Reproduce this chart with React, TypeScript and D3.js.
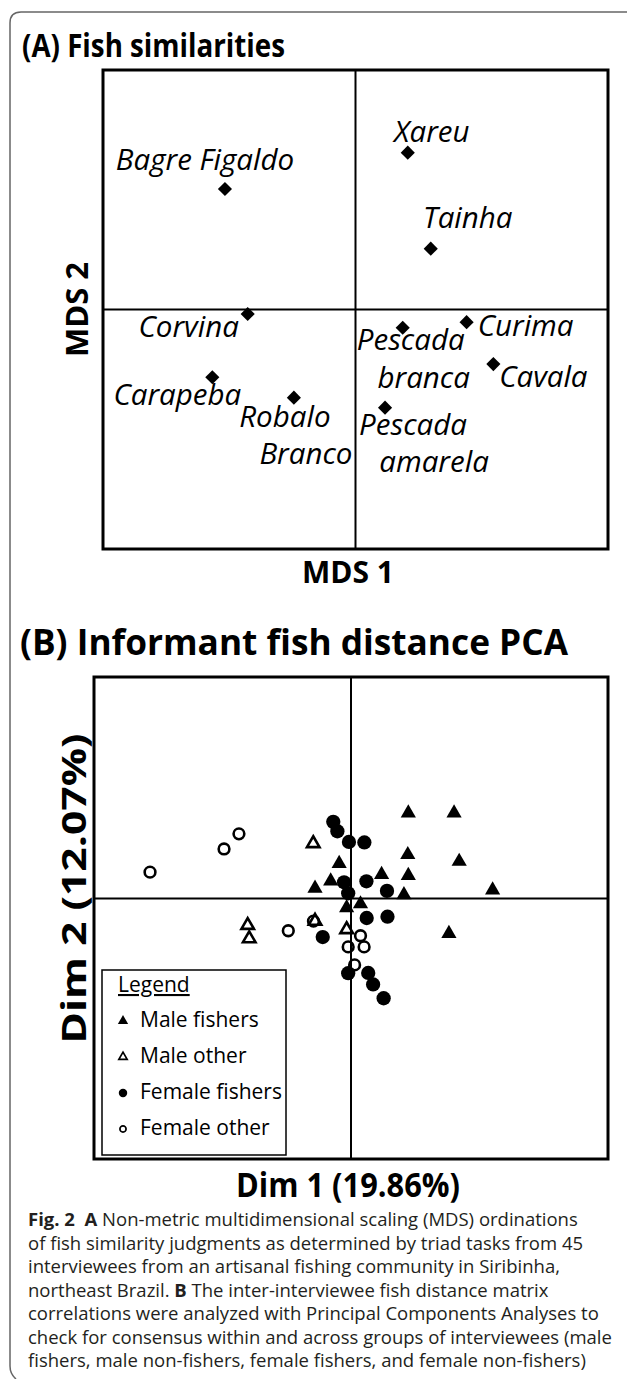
import React from 'react'
import * as d3 from 'd3'

// (A) MDS ordination of fish similarity
const fishNames = ['Bagre Figaldo', 'Xareu', 'Tainha', 'Corvina', 'Pescada branca', 'Curima', 'Carapeba', 'Robalo Branco', 'Cavala', 'Pescada amarela']
const mds1 = [-0.517, 0.207, 0.298, -0.427, 0.187, 0.44, -0.567, -0.244, 0.546, 0.117]
const mds2 = [0.503, 0.655, 0.254, -0.019, -0.076, -0.053, -0.283, -0.368, -0.228, -0.41]

// (B) PCA of informants, one pair of arrays per group
const maleFishersX = [0.223, 0.401, 0.221, 0.421, 0.223, 0.119, -0.046, -0.079, -0.14, 0.206, 0.551, 0.037, -0.017, 0.381]
const maleFishersY = [0.328, 0.328, 0.168, 0.142, 0.088, 0.092, 0.134, 0.067, 0.039, 0.014, 0.032, -0.021, -0.036, -0.135]
const maleOtherX = [-0.147, -0.402, -0.396, -0.14, -0.017]
const maleOtherY = [0.211, -0.103, -0.154, -0.087, -0.119]
const femaleFishersX = [-0.069, -0.053, -0.008, 0.052, -0.027, 0.06, 0.14, -0.011, 0.061, 0.142, -0.11, -0.011, 0.067, 0.086, 0.127]
const femaleFishersY = [0.294, 0.258, 0.217, 0.215, 0.062, 0.066, 0.029, 0.02, -0.075, -0.07, -0.148, -0.287, -0.286, -0.33, -0.383]
const femaleOtherX = [-0.782, -0.494, -0.436, -0.244, -0.146, 0.037, -0.011, 0.051, 0.014]
const femaleOtherY = [0.101, 0.19, 0.248, -0.124, -0.087, -0.143, -0.186, -0.186, -0.255]

const legendLabels = ['Male fishers', 'Male other', 'Female fishers', 'Female other']

const captionLines = [
    [['Fig. 2', true], ['  ', false], ['A', true], [' Non-metric multidimensional scaling (MDS) ordinations', false]],
    [['of fish similarity judgments as determined by triad tasks from 45', false]],
    [['interviewees from an artisanal fishing community in Siribinha,', false]],
    [['northeast Brazil. ', false], ['B', true], [' The inter-interviewee fish distance matrix', false]],
    [['correlations were analyzed with Principal Components Analyses to', false]],
    [['check for consensus within and across groups of interviewees (male', false]],
    [['fishers, male non-fishers, female fishers, and female non-fishers)', false]],
]

// label centre offsets from each point (line 1, optional line 2)
const labelPos = [
    { dx: -20, dy: -19 },
    { dx: 24, dy: -11 },
    { dx: 37, dy: -21 },
    { dx: -59, dy: 23 },
    { dx: 8, dy: 22, dx2: 21, dy2: 60 },
    { dx: 59, dy: 14 },
    { dx: -35, dy: 28 },
    { dx: -9, dy: 29, dx2: 12, dy2: 66 },
    { dx: 50, dy: 23 },
    { dx: 28, dy: 27, dx2: 49, dy2: 64 },
]

const FONT = "'Open Sans', sans-serif"

const App = () => {
    const ref = React.useRef<SVGSVGElement>(null)

    React.useEffect(() => {
        const svg = d3.select(ref.current)
        svg.selectAll('*').remove()

        // outer page frame
        svg.append('path')
            .attr('d', 'M627,12 H21 Q10,12 10,23 V1366 Q10,1374 16,1379')
            .attr('fill', 'none')
            .attr('stroke', '#666')
            .attr('stroke-width', 1.5)

        // ---------- panel A ----------
        const ax = d3.scaleLinear().domain([-1, 1]).range([103, 608])
        const ay = d3.scaleLinear().domain([-1, 1]).range([549, 70])

        svg.append('text')
            .attr('x', 22).attr('y', 57)
            .attr('font-family', FONT).attr('font-weight', 700).attr('font-size', 33)
            .attr('textLength', 263).attr('lengthAdjust', 'spacingAndGlyphs')
            .text('(A) Fish similarities')

        const gA = svg.append('g')
        gA.append('rect')
            .attr('x', ax(-1)).attr('y', ay(1))
            .attr('width', ax(1) - ax(-1)).attr('height', ay(-1) - ay(1))
            .attr('fill', 'none').attr('stroke', '#000').attr('stroke-width', 3)
        gA.append('line')
            .attr('x1', ax(0)).attr('x2', ax(0)).attr('y1', ay(1)).attr('y2', ay(-1))
            .attr('stroke', '#000').attr('stroke-width', 2)
        gA.append('line')
            .attr('x1', ax(-1)).attr('x2', ax(1)).attr('y1', ay(0)).attr('y2', ay(0))
            .attr('stroke', '#000').attr('stroke-width', 2)

        const diamond = d3.symbol().type(d3.symbolSquare).size(100)
        fishNames.forEach((name, i) => {
            const px = ax(mds1[i])
            const py = ay(mds2[i])
            gA.append('path')
                .attr('d', diamond())
                .attr('transform', `translate(${px},${py}) rotate(45)`)
                .attr('fill', '#000')
            const p = labelPos[i]
            const words = name.split(' ')
            const twoLines = p.dx2 !== undefined
            const lines = twoLines ? [words[0], words.slice(1).join(' ')] : [name]
            lines.forEach((ln, j) => {
                gA.append('text')
                    .attr('x', px + (j === 0 ? p.dx : p.dx2!))
                    .attr('y', py + (j === 0 ? p.dy : p.dy2!))
                    .attr('text-anchor', 'middle')
                    .attr('font-family', FONT).attr('font-style', 'italic').attr('font-size', 29.5)
                    .text(ln)
            })
        })

        svg.append('text')
            .attr('transform', `translate(88,${ay(0)}) rotate(-90)`)
            .attr('text-anchor', 'middle')
            .attr('font-family', FONT).attr('font-weight', 700).attr('font-size', 31)
            .attr('textLength', 95).attr('lengthAdjust', 'spacingAndGlyphs')
            .text('MDS 2')
        svg.append('text')
            .attr('x', 348).attr('y', 583)
            .attr('text-anchor', 'middle')
            .attr('font-family', FONT).attr('font-weight', 700).attr('font-size', 31)
            .attr('textLength', 92).attr('lengthAdjust', 'spacingAndGlyphs')
            .text('MDS 1')

        // ---------- panel B ----------
        const bx = d3.scaleLinear().domain([-1, 1]).range([94, 608])
        const by = d3.scaleLinear().domain([-1, 0.85]).range([1159, 677])

        svg.append('text')
            .attr('x', 20).attr('y', 655)
            .attr('font-family', FONT).attr('font-weight', 700).attr('font-size', 35)
            .attr('textLength', 548).attr('lengthAdjust', 'spacingAndGlyphs')
            .text('(B) Informant fish distance PCA')

        const gB = svg.append('g')
        gB.append('rect')
            .attr('x', bx(-1)).attr('y', by(0.85))
            .attr('width', bx(1) - bx(-1)).attr('height', by(-1) - by(0.85))
            .attr('fill', 'none').attr('stroke', '#000').attr('stroke-width', 3)
        gB.append('line')
            .attr('x1', bx(0)).attr('x2', bx(0)).attr('y1', by(0.85)).attr('y2', by(-1))
            .attr('stroke', '#000').attr('stroke-width', 2)
        gB.append('line')
            .attr('x1', bx(-1)).attr('x2', bx(1)).attr('y1', by(0)).attr('y2', by(0))
            .attr('stroke', '#000').attr('stroke-width', 2)

        const groups = [
            { xs: maleFishersX, ys: maleFishersY, type: d3.symbolTriangle, size: 100, fill: true },
            { xs: maleOtherX, ys: maleOtherY, type: d3.symbolTriangle, size: 68, fill: false },
            { xs: femaleFishersX, ys: femaleFishersY, type: d3.symbolCircle, size: 160, fill: true },
            { xs: femaleOtherX, ys: femaleOtherY, type: d3.symbolCircle, size: 90, fill: false },
        ]
        groups.forEach((grp) => {
            const sym = d3.symbol().type(grp.type).size(grp.size)
            grp.xs.forEach((v, i) => {
                gB.append('path')
                    .attr('d', sym())
                    .attr('transform', `translate(${bx(v)},${by(grp.ys[i])})`)
                    .attr('fill', grp.fill ? '#000' : 'none')
                    .attr('stroke', '#000')
                    .attr('stroke-width', grp.fill ? 0 : 2.6)
            })
        })

        // legend
        const lg = gB.append('g')
        lg.append('rect')
            .attr('x', 102).attr('y', 970).attr('width', 184).attr('height', 185)
            .attr('fill', '#fff').attr('stroke', '#000').attr('stroke-width', 1.5)
        lg.append('text')
            .attr('x', 118).attr('y', 992)
            .attr('font-family', FONT).attr('font-size', 21)
            .attr('text-decoration', 'underline')
            .text('Legend')
        const legendSyms = [
            { type: d3.symbolTriangle, size: 46, fill: true },
            { type: d3.symbolTriangle, size: 30, fill: false },
            { type: d3.symbolCircle, size: 56, fill: true },
            { type: d3.symbolCircle, size: 30, fill: false },
        ]
        legendLabels.forEach((lab, i) => {
            const yy = 1027 + i * 36
            const s = legendSyms[i]
            lg.append('path')
                .attr('d', d3.symbol().type(s.type).size(s.size)())
                .attr('transform', `translate(123,${yy - 6})`)
                .attr('fill', s.fill ? '#000' : 'none')
                .attr('stroke', '#000')
                .attr('stroke-width', s.fill ? 0 : 1.7)
            lg.append('text')
                .attr('x', 140).attr('y', yy)
                .attr('font-family', FONT).attr('font-size', 21)
                .text(lab)
        })

        svg.append('text')
            .attr('transform', `translate(86,${by(0) - 10}) rotate(-90)`)
            .attr('text-anchor', 'middle')
            .attr('font-family', FONT).attr('font-weight', 700).attr('font-size', 34)
            .attr('textLength', 310).attr('lengthAdjust', 'spacingAndGlyphs')
            .text('Dim 2 (12.07%)')
        svg.append('text')
            .attr('x', 348).attr('y', 1197)
            .attr('text-anchor', 'middle')
            .attr('font-family', FONT).attr('font-weight', 700).attr('font-size', 34)
            .attr('textLength', 224).attr('lengthAdjust', 'spacingAndGlyphs')
            .text('Dim 1 (19.86%)')

        // caption
        captionLines.forEach((parts, i) => {
            const t = svg.append('text')
                .attr('x', 28).attr('y', 1226 + i * 23.5)
                .attr('font-family', FONT).attr('font-size', 18.5)
                .attr('fill', '#231f20')
                .style('white-space', 'pre')
            parts.forEach(([s, bold]) => {
                t.append('tspan').attr('font-weight', bold ? 700 : 400).text(s as string)
            })
        })
    }, [])

    return (
        <div style={{ position: 'absolute', left: 0, top: 0, width: 627, height: 1379, background: '#fff' }}>
            <svg ref={ref} width={627} height={1379} style={{ display: 'block' }}></svg>
        </div>
    )
}

export default App
